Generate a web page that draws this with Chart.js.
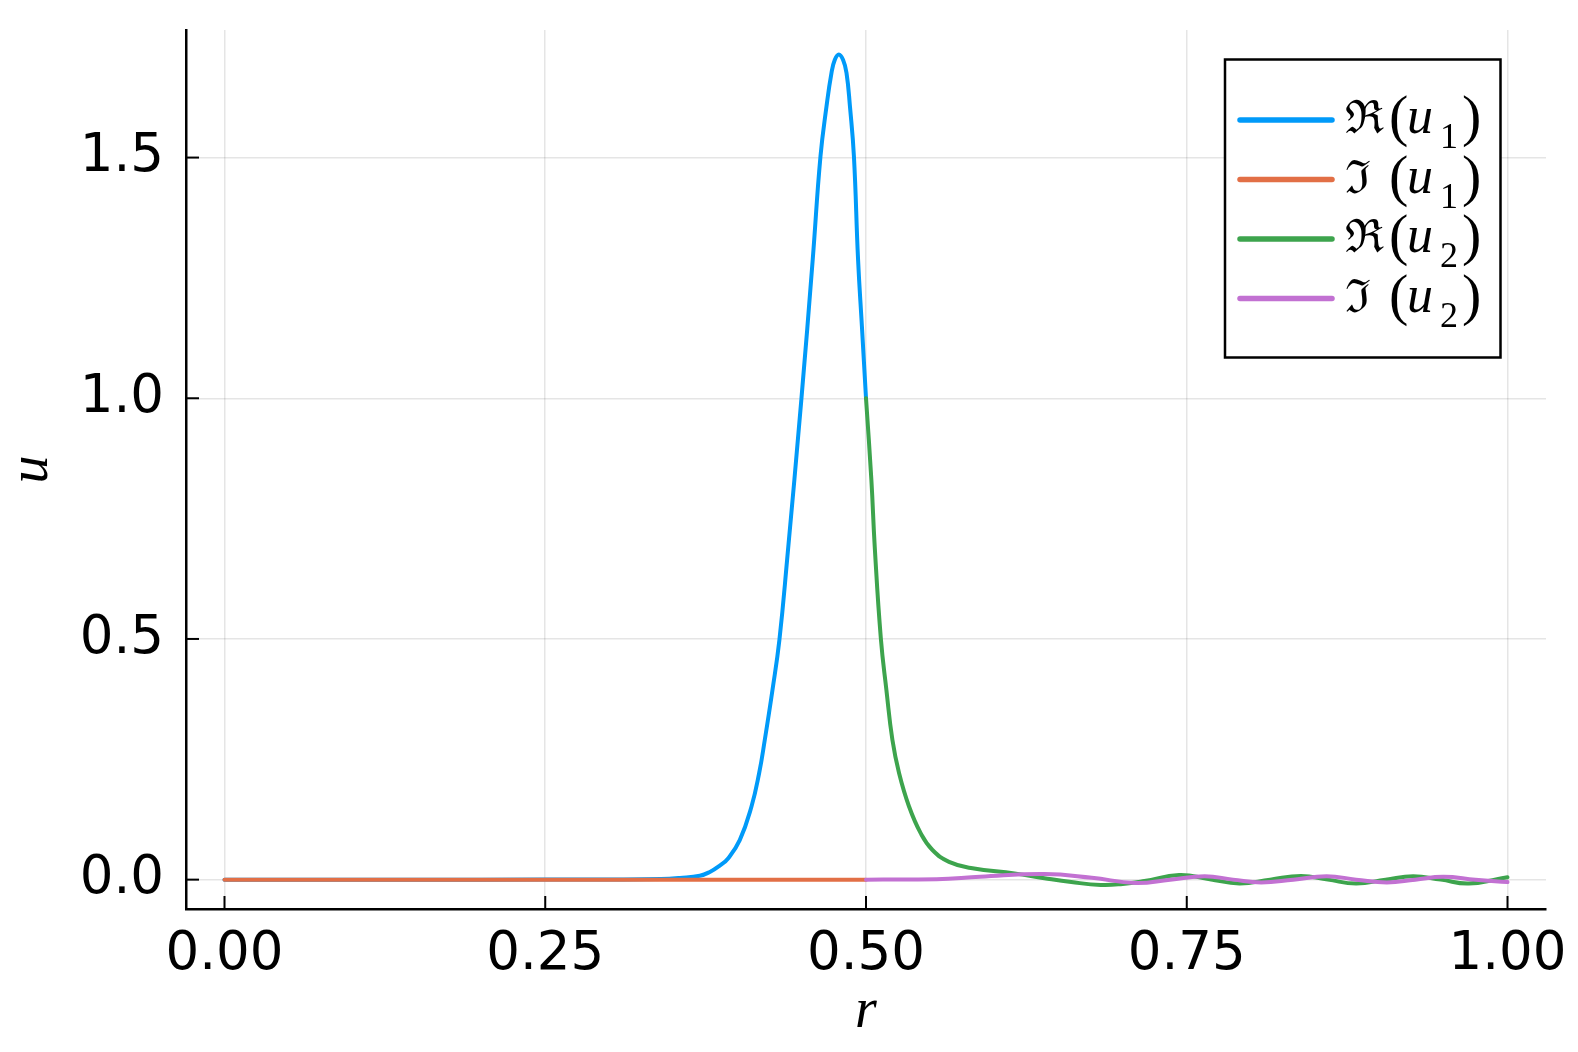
<!DOCTYPE html>
<html>
<head>
<meta charset="utf-8">
<script src="https://cdn.jsdelivr.net/npm/chart.js@4.4.0/dist/chart.umd.min.js"></script>
<style>
  html, body { margin: 0; padding: 0; background: #ffffff; }
  #wrap { width: 1578px; height: 1052px; }
</style>
</head>
<body>
<div id="wrap"><canvas id="plot" width="1578" height="1052"></canvas></div>
<script>
// ---- data ----
// Re(u1) on [0, 0.5]
var rReU1 = [0, 0.1, 0.2, 0.3, 0.34, 0.355, 0.3705, 0.3783, 0.386, 0.3925, 0.4016, 0.4107, 0.4167, 0.4211, 0.4271,
  0.4325, 0.4385, 0.4497, 0.4585, 0.4645, 0.4692, 0.4731, 0.4757, 0.4788, 0.4821, 0.4848, 0.4875, 0.4906,
  0.4938, 0.4968, 0.5];
var reU1 = [0, 0, 0, 0.0003, 0.0012, 0.0035, 0.008, 0.016, 0.029, 0.044, 0.082, 0.1515, 0.221, 0.29, 0.394,
  0.498, 0.664, 1.0, 1.289, 1.502, 1.606, 1.676, 1.703, 1.714, 1.703, 1.676, 1.606, 1.502,
  1.289, 1.15, 1.0];

// Im(u1) on [0, 0.5]
var rImU1 = [0, 0.25, 0.5];
var imU1 = [0, 0, 0];

// Re(u2) on [0.5, 1]
var rReU2 = [0.5, 0.5042, 0.5068, 0.5116, 0.5159, 0.5206, 0.5258, 0.5336, 0.5427, 0.5518, 0.5647, 0.583, 0.6157,
  0.639, 0.66, 0.683, 0.70, 0.717, 0.744, 0.768, 0.791, 0.815, 0.839, 0.86, 0.882, 0.905, 0.9265, 0.948, 0.97, 1.0];
var reU2 = [1.0, 0.83, 0.692, 0.5, 0.394, 0.29, 0.221, 0.1515, 0.096, 0.0615, 0.037, 0.0235, 0.013,
  0.003, -0.005, -0.011, -0.009, -0.003, 0.0095, 0.001, -0.008, 0.0, 0.0075, 0.0, -0.008, 0.0, 0.007, 0.0, -0.008, 0.005];

// Im(u2) on [0.5, 1]
var rImU2 = [0.5, 0.555, 0.589, 0.639, 0.676, 0.71, 0.737, 0.764, 0.786, 0.808, 0.833, 0.859,
  0.882, 0.906, 0.928, 0.95, 0.975, 1.0];
var imU2 = [0, 0.001, 0.006, 0.0116, 0.004, -0.007, 0.0, 0.007, 0.0, -0.006, 0.0, 0.007,
  0.0, -0.006, 0.0, 0.006, 0.0, -0.005];

var xTickValues = [0, 0.25, 0.5, 0.75, 1.0];
var yTickValues = [0, 0.5, 1.0, 1.5];

var seriesNames = ['ℜ(u₁)', 'ℑ(u₁)', 'ℜ(u₂)', 'ℑ(u₂)'];
var seriesPart = ['ℜ', 'ℑ', 'ℜ', 'ℑ'];
var seriesSub = ['1', '1', '2', '2'];
var seriesColors = ['#009af9', '#e26f46', '#3da44d', '#c271d2'];

function toPoints(xs, ys) {
  return xs.map(function(x, i) { return { x: x, y: ys[i] }; });
}

function makeSet(i, xs, ys, order) {
  return {
    label: seriesNames[i],
    data: toPoints(xs, ys),
    borderColor: seriesColors[i],
    backgroundColor: seriesColors[i],
    borderWidth: 4,
    pointRadius: 0,
    fill: false,
    tension: 0.45,
    borderCapStyle: 'round',
    borderJoinStyle: 'round',
    order: order
  };
}

// inward tick marks, Plots.jl style
var innerTicks = {
  id: 'innerTicks',
  afterDatasetsDraw: function(chart) {
    var ctx = chart.ctx, area = chart.chartArea;
    var xs = chart.scales.x, ys = chart.scales.y;
    ctx.save();
    ctx.strokeStyle = '#000';
    ctx.lineWidth = 2;
    xs.ticks.forEach(function(t) {
      var px = xs.getPixelForValue(t.value);
      ctx.beginPath(); ctx.moveTo(px, area.bottom); ctx.lineTo(px, area.bottom - 13); ctx.stroke();
    });
    ys.ticks.forEach(function(t) {
      var py = ys.getPixelForValue(t.value);
      ctx.beginPath(); ctx.moveTo(area.left, py); ctx.lineTo(area.left + 13, py); ctx.stroke();
    });
    ctx.restore();
  }
};

// boxed legend in top-right corner
var boxLegend = {
  id: 'boxLegend',
  afterDraw: function(chart) {
    var ctx = chart.ctx;
    var bx = 1225, by = 59.5, bw = 275.5, bh = 298;
    ctx.save();
    ctx.fillStyle = '#fff';
    ctx.fillRect(bx, by, bw, bh);
    ctx.strokeStyle = '#000';
    ctx.lineWidth = 2.5;
    ctx.strokeRect(bx, by, bw, bh);
    ctx.textAlign = 'left';
    ctx.textBaseline = 'alphabetic';
    for (var i = 0; i < seriesNames.length; i++) {
      var ly = 120 + 59.5 * i;
      ctx.strokeStyle = seriesColors[i];
      ctx.lineWidth = 5.5;
      ctx.lineCap = 'round';
      ctx.beginPath(); ctx.moveTo(1240, ly); ctx.lineTo(1332, ly); ctx.stroke();
      var base = ly + 13;
      ctx.fillStyle = '#000';
      ctx.font = '46px "DejaVu Serif"';
      ctx.fillText(seriesPart[i], 1345, base);
      ctx.font = '58px "Liberation Serif"';
      ctx.fillText('(', 1389, base + 2);
      ctx.fillText(')', 1462, base + 2);
      ctx.font = 'italic 52px "Liberation Serif"';
      ctx.fillText('u', 1407, base);
      ctx.font = '36px "Liberation Serif"';
      ctx.fillText(seriesSub[i], 1440, base + 15);
    }
    ctx.restore();
  }
};

var gridColor = 'rgba(0,0,0,0.1)';
var tickFont = { family: 'DejaVu Sans', size: 53 };

new Chart(document.getElementById('plot').getContext('2d'), {
  type: 'line',
  data: {
    datasets: [
      makeSet(0, rReU1, reU1, 4),
      makeSet(1, rImU1, imU1, 3),
      makeSet(2, rReU2, reU2, 2),
      makeSet(3, rImU2, imU2, 1)
    ]
  },
  options: {
    responsive: false,
    animation: false,
    devicePixelRatio: 1,
    layout: { padding: { top: 30, right: 32, left: 0, bottom: 0 } },
    plugins: { legend: { display: false }, tooltip: { enabled: false } },
    scales: {
      x: {
        type: 'linear',
        min: -0.03, max: 1.03,
        afterBuildTicks: function(s) { s.ticks = xTickValues.map(function(v) { return { value: v }; }); },
        afterFit: function(s) { s.height = 143; s.paddingLeft = 0; s.paddingRight = 0; },
        ticks: { callback: function(v) { return v.toFixed(2); }, font: tickFont, color: '#000', padding: 14, maxRotation: 0, autoSkip: false },
        grid: { color: gridColor, lineWidth: 1.5, drawTicks: false },
        border: { color: '#000', width: 2.5 },
        title: { display: true, text: 'r', color: '#000',
          font: { family: 'Liberation Serif', style: 'italic', size: 56, lineHeight: 1 },
          padding: { top: 0, bottom: 12 } }
      },
      y: {
        type: 'linear',
        min: -0.061, max: 1.765,
        afterBuildTicks: function(s) { s.ticks = yTickValues.map(function(v) { return { value: v }; }); },
        afterFit: function(s) { s.width = 186; s.paddingTop = 0; s.paddingBottom = 0; },
        ticks: { callback: function(v) { return v.toFixed(1); }, font: tickFont, color: '#000', padding: 22, autoSkip: false },
        grid: { color: gridColor, lineWidth: 1.5, drawTicks: false },
        border: { color: '#000', width: 2.5 },
        title: { display: true, text: 'u', color: '#000',
          font: { family: 'Liberation Serif', style: 'italic', size: 56, lineHeight: 1 },
          padding: { top: 4, bottom: 0 } }
      }
    }
  },
  plugins: [innerTicks, boxLegend]
});
</script>
</body>
</html>
